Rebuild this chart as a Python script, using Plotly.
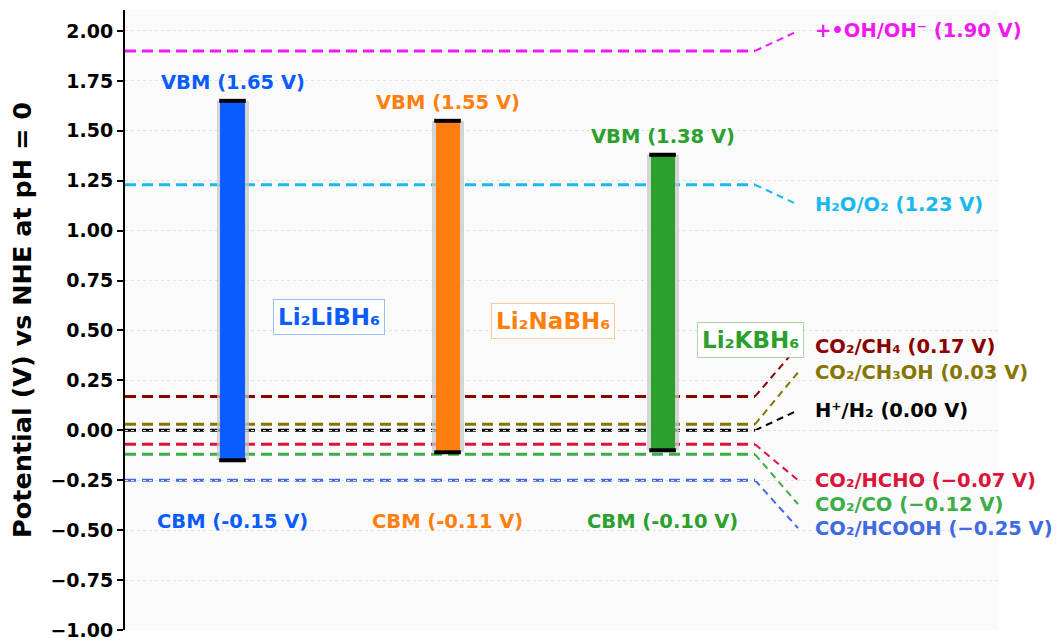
import plotly.graph_objects as go

# Band edges of the three hydrides (V vs NHE)
materials = ["Li₂LiBH₆", "Li₂NaBH₆", "Li₂KBH₆"]
vbm = [1.65, 1.55, 1.38]
cbm = [-0.15, -0.11, -0.10]
bar_colors = ["#0a5cff", "#ff7f0e", "#2ca02c"]
bar_x = [0, 1, 2]

# Redox potentials of reference reactions
redox_labels = ["+•OH/OH⁻ (1.90 V)", "H₂O/O₂ (1.23 V)", "CO₂/CH₄ (0.17 V)",
                "CO₂/CH₃OH (0.03 V)", "H⁺/H₂ (0.00 V)", "CO₂/HCHO (−0.07 V)",
                "CO₂/CO (−0.12 V)", "CO₂/HCOOH (−0.25 V)"]
redox_values = [1.90, 1.23, 0.17, 0.03, 0.00, -0.07, -0.12, -0.25]
redox_colors = ["#f01af0", "#19b9ee", "#8b0000", "#857600", "#000000",
                "#dc143c", "#3cae47", "#4169e1"]
# vertical placement of the side labels (spread out so they do not overlap)
redox_label_y = [2.00, 1.13, 0.42, 0.29, 0.10, -0.25, -0.37, -0.49]

y_ticks = [-1.00, -0.75, -0.50, -0.25, 0.00, 0.25, 0.50, 0.75, 1.00, 1.25, 1.50, 1.75, 2.00]
y_tick_text = [f"{v:.2f}".replace("-", "−") for v in y_ticks]

X_MIN, X_MAX = -0.5, 3.56
LINE_END = 2.43
CONN_END = 2.63
LABEL_X = 2.70
BAR_W = 0.112
SHADOW_W = 0.145
CAP_HALF = 0.062

FONT = "DejaVu Sans"

fig = go.Figure()

shapes = []
for val, col, ly in zip(redox_values, redox_colors, redox_label_y):
    shapes.append(dict(type="line", xref="x", yref="y", layer="below",
                       x0=X_MIN, x1=LINE_END, y0=val, y1=val,
                       line=dict(color=col, width=3, dash="11px,6px")))
    shapes.append(dict(type="line", xref="x", yref="y", layer="below",
                       x0=LINE_END, x1=CONN_END, y0=val, y1=ly,
                       line=dict(color=col, width=2, dash="7px,5px")))

# soft grey halo behind each band bar
fig.add_trace(go.Bar(x=bar_x, y=[v - c for v, c in zip(vbm, cbm)], base=cbm,
                     width=SHADOW_W, offset=-SHADOW_W / 2 + 0.002,
                     marker=dict(color="rgba(200,200,200,0.75)", line=dict(width=0)),
                     hoverinfo="skip", showlegend=False))
# band bars
fig.add_trace(go.Bar(x=bar_x, y=[v - c for v, c in zip(vbm, cbm)], base=cbm,
                     width=BAR_W, offset=-BAR_W / 2,
                     marker=dict(color=bar_colors, line=dict(width=0)),
                     showlegend=False))

# black caps at the band edges
for x, top, bot in zip(bar_x, vbm, cbm):
    for yv in (top, bot):
        fig.add_trace(go.Scatter(x=[x - CAP_HALF, x + CAP_HALF], y=[yv, yv],
                                 mode="lines", line=dict(color="black", width=4),
                                 showlegend=False, hoverinfo="skip"))

annotations = []
for x, top, bot, col, name in zip(bar_x, vbm, cbm, bar_colors, materials):
    annotations.append(dict(x=x, y=top + 0.09, xref="x", yref="y",
                            text=f"VBM ({top:.2f} V)", showarrow=False,
                            font=dict(family=FONT, size=19.5, color=col, weight="bold")))
    annotations.append(dict(x=x, y=-0.455, xref="x", yref="y",
                            text=f"CBM ({bot:.2f} V)", showarrow=False,
                            font=dict(family=FONT, size=19.5, color=col, weight="bold")))

# compound name boxes
name_pos = [(0.45, 0.567), (1.49, 0.547), (2.41, 0.45)]
border_cols = ["rgba(10,92,255,0.4)", "rgba(255,127,14,0.4)", "rgba(44,160,44,0.4)"]
for (nx, ny), col, bcol, name in zip(name_pos, bar_colors, border_cols, materials):
    annotations.append(dict(x=nx, y=ny, xref="x", yref="y", text=name, showarrow=False,
                            font=dict(family=FONT, size=23, color=col, weight="bold"),
                            bgcolor="rgba(255,255,255,0.9)", bordercolor=bcol,
                            borderwidth=1, borderpad=4))

for lab, col, ly in zip(redox_labels, redox_colors, redox_label_y):
    annotations.append(dict(x=LABEL_X, y=ly, xref="x", yref="y", text=lab,
                            showarrow=False, xanchor="left", yanchor="middle",
                            font=dict(family=FONT, size=19.5, color=col, weight="bold")))

fig.update_layout(
    width=1059, height=641,
    margin=dict(l=125, r=61, t=10, b=11, autoexpand=False),
    paper_bgcolor="white", plot_bgcolor="#fafafa",
    barmode="overlay", bargap=0,
    font=dict(family=FONT, color="black"),
    shapes=shapes, annotations=annotations,
    xaxis=dict(range=[X_MIN, X_MAX], showticklabels=False, showgrid=False,
               zeroline=False, showline=False, ticks="", automargin=False),
    yaxis=dict(range=[-1.0, 2.105], tickvals=y_ticks, ticktext=y_tick_text,
               tickfont=dict(family=FONT, size=19, color="black", weight="bold"),
               ticklabeloverflow="allow", automargin=False,
               showline=True, linecolor="black", linewidth=2,
               ticks="outside", ticklen=6, tickwidth=2, tickcolor="black",
               showgrid=True, gridcolor="#e2e2e2", griddash="dot", gridwidth=1,
               zeroline=False,
               title=dict(text="Potential (V) vs NHE at pH = 0", standoff=11,
                          font=dict(family=FONT, size=25.5, color="black", weight="bold"))),
)

fig.write_html("out.html")
